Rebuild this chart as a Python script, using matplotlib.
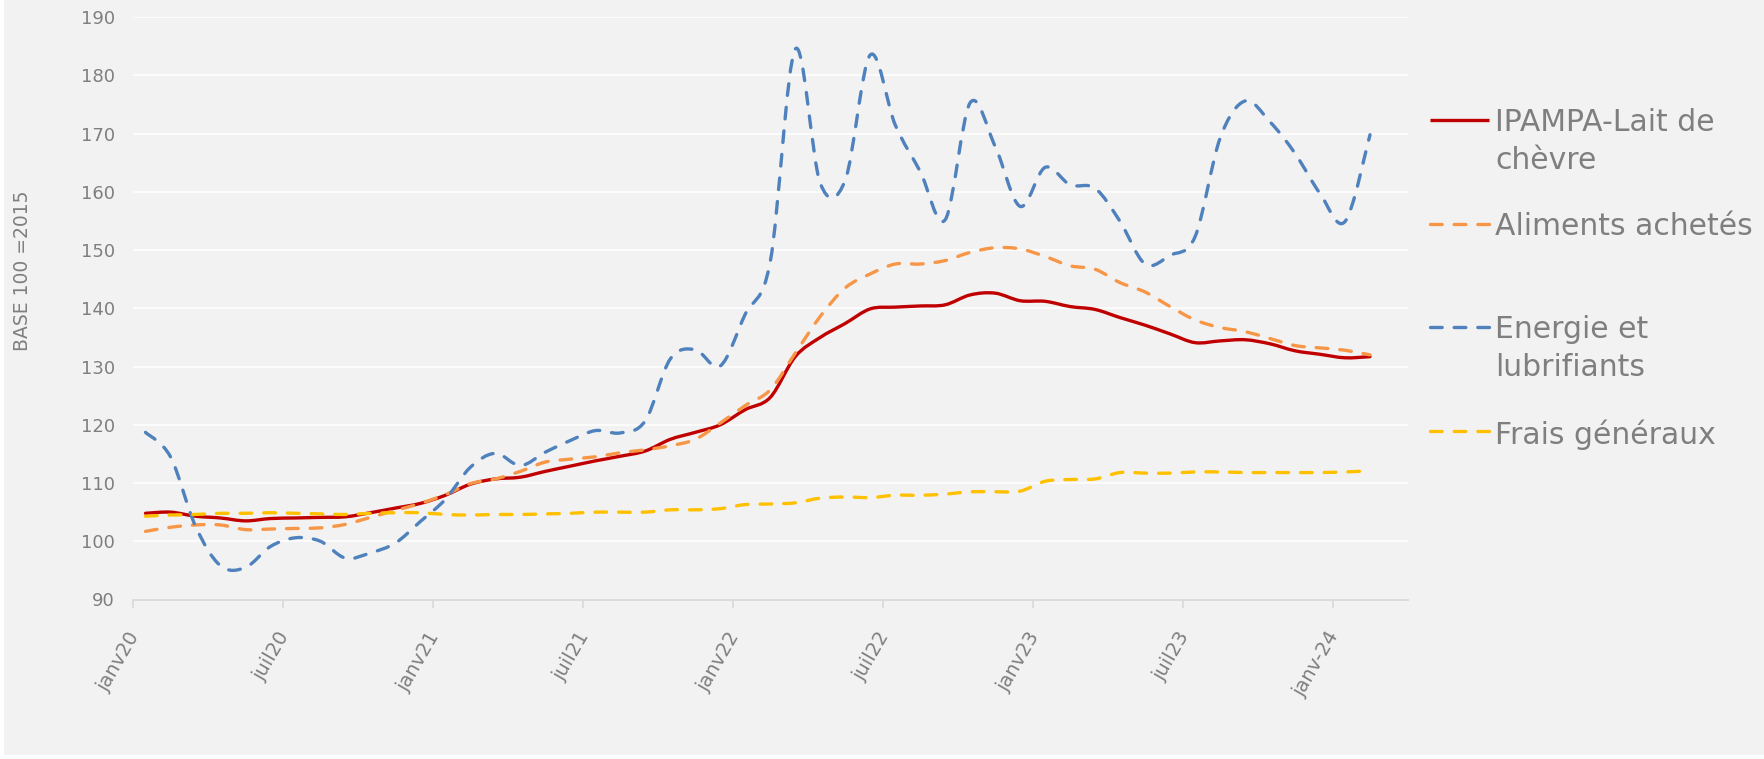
import matplotlib
matplotlib.use("Agg")
import matplotlib.pyplot as plt
from matplotlib.path import Path
from matplotlib.patches import PathPatch, Rectangle
from matplotlib.lines import Line2D
import matplotlib.transforms as mtransforms

# ---------------- data (monthly, janv20 .. févr24) ----------------
n_categories = 51  # janv20 .. mars24 on the axis
tick_idx = [0, 6, 12, 18, 24, 30, 36, 42, 48]
tick_labels = ["janv20", "juil20", "janv21", "juil21", "janv22", "juil22",
               "janv23", "juil23", "janv-24"]

ipampa = [104.8, 105.0, 104.3, 104.0, 103.5, 103.9, 104.0, 104.1, 104.2, 104.9,
          105.7, 106.5, 107.9, 109.8, 110.7, 111.0, 112.0, 112.9, 113.8, 114.6,
          115.5, 117.5, 118.7, 120.0, 122.6, 124.7, 131.7, 135.0, 137.4, 139.9,
          140.2, 140.4, 140.6, 142.3, 142.6, 141.3, 141.2, 140.3, 139.8, 138.4,
          137.1, 135.6, 134.1, 134.4, 134.6, 133.9, 132.7, 132.1, 131.5, 131.7]

aliments = [101.7, 102.4, 102.8, 102.8, 102.0, 102.1, 102.2, 102.3, 102.9, 104.1,
            105.3, 106.5, 108.0, 109.9, 110.7, 112.0, 113.6, 114.1, 114.5, 115.2,
            115.7, 116.4, 117.5, 120.3, 123.3, 126.0, 132.3, 138.6, 143.5, 145.9,
            147.6, 147.6, 148.2, 149.6, 150.4, 150.2, 148.9, 147.3, 146.7, 144.4,
            142.8, 140.3, 138.0, 136.7, 136.0, 134.8, 133.6, 133.2, 132.8, 132.0]

energie = [118.7, 114.5, 102.6, 95.8, 95.5, 99.1, 100.6, 100.0, 97.1, 98.0,
           99.7, 103.4, 107.2, 112.7, 115.1, 113.0, 115.3, 117.3, 119.0, 118.6,
           120.7, 131.3, 132.9, 130.1, 139.0, 148.0, 184.5, 161.5, 162.0, 183.5,
           171.5, 163.5, 155.2, 175.3, 167.8, 157.5, 164.2, 161.2, 160.6, 154.9,
           147.6, 149.1, 152.3, 169.2, 175.6, 172.0, 166.6, 159.7, 154.9, 169.8]

frais = [104.3, 104.5, 104.6, 104.8, 104.8, 104.9, 104.8, 104.7, 104.6, 104.8,
         104.9, 104.9, 104.6, 104.5, 104.6, 104.6, 104.7, 104.8, 105.0, 105.0,
         105.0, 105.4, 105.4, 105.6, 106.3, 106.4, 106.6, 107.4, 107.6, 107.5,
         107.9, 107.9, 108.1, 108.5, 108.5, 108.6, 110.3, 110.6, 110.7, 111.8,
         111.7, 111.7, 111.9, 111.9, 111.8, 111.8, 111.8, 111.8, 111.9, 112.1]

series_names = ["IPAMPA-Lait de\nchèvre", "Aliments achetés",
                "Energie et\nlubrifiants", "Frais généraux"]
series_values = [ipampa, aliments, energie, frais]

# ---------------- styling ----------------
W, H = 1764, 759
BG = "#F2F2F2"
GRAY = "#7F7F7F"
colors = ["#C00000", "#F79646", "#4F81BD", "#FFC000"]
styles = ["-", (0, (3.5, 3.6)), (0, (3.5, 3.6)), (0, (3.5, 3.6))]
widths = [2.4, 2.4, 2.4, 2.4]


def smooth_path(ys):
    """Excel-like smoothed line: cubic Bezier segments through the points."""
    xs = list(range(len(ys)))
    n = len(xs)
    verts = [(xs[0], ys[0])]
    codes = [Path.MOVETO]
    for i in range(n - 1):
        a = max(i - 1, 0)
        b = min(i + 2, n - 1)
        c1 = (xs[i] + (xs[i + 1] - xs[a]) / 6.0, ys[i] + (ys[i + 1] - ys[a]) / 6.0)
        c2 = (xs[i + 1] - (xs[b] - xs[i]) / 6.0, ys[i + 1] - (ys[b] - ys[i]) / 6.0)
        verts += [c1, c2, (xs[i + 1], ys[i + 1])]
        codes += [Path.CURVE4] * 3
    return Path(verts, codes)


fig = plt.figure(figsize=(W / 100, H / 100), dpi=100)
fig.patch.set_facecolor("white")
fig.add_artist(Rectangle((4 / W, 4 / H), 1 - 4 / W, 1 - 4 / H,
                         transform=fig.transFigure, facecolor=BG,
                         edgecolor="none", zorder=-10))

left, right = 133 / W, 1407.5 / W
bottom, top = (H - 599.5) / H, (H - 17.1) / H
ax = fig.add_axes([left, bottom, right - left, top - bottom])
ax.set_facecolor(BG)

ax.set_xlim(-0.5, n_categories - 0.5)
ax.set_ylim(90, 190)
ax.set_yticks(range(90, 191, 10))
ax.grid(axis="y", color="white", linewidth=1.2)
ax.set_axisbelow(True)

for s in ["top", "right", "left"]:
    ax.spines[s].set_visible(False)
ax.spines["bottom"].set_color("#D9D9D9")
ax.spines["bottom"].set_linewidth(1.3)

# tick marks (and labels) at the start of every 6th month
ax.set_xticks([i - 0.5 for i in tick_idx])
ax.set_xticklabels(tick_labels, rotation=60, ha="right", va="center",
                   rotation_mode="anchor", color=GRAY, fontsize=14)
ax.tick_params(axis="x", which="major", length=6, width=1.2, color="#D9D9D9", pad=18)
offset = mtransforms.ScaledTranslation(2 / 100, 0, fig.dpi_scale_trans)
for lab in ax.get_xticklabels():
    lab.set_transform(lab.get_transform() + offset)
ax.tick_params(axis="y", length=0, pad=13, labelsize=13, labelcolor=GRAY)

for vals, c, ls, lw in zip(series_values, colors, styles, widths):
    patch = PathPatch(smooth_path(vals), fill=False, edgecolor=c, linewidth=lw,
                      linestyle=ls, capstyle="round", joinstyle="round", zorder=3)
    ax.add_patch(patch)

ax.set_ylabel("BASE 100 =2015", fontsize=13.5, color=GRAY)
ax.yaxis.set_label_coords((32 - 133) / (1407.5 - 133), (599.5 - 271) / (599.5 - 17.1))

# ---------------- legend (drawn like the Excel legend) ----------------
legend_y = [120, 224, 327, 431]
for name, c, ls, lw, yy in zip(series_names, colors, styles, widths, legend_y):
    yf = (H - yy) / H
    fig.add_artist(Line2D([1430 / W, 1489 / W], [yf, yf], transform=fig.transFigure,
                          color=c, linestyle=ls, linewidth=lw,
                          dash_capstyle="round", solid_capstyle="butt"))
    fig.text(1495 / W, (H - (yy - 12)) / H, name, ha="left", va="top",
             fontsize=21.5, color=GRAY, linespacing=1.38)

fig.savefig("out.png", dpi=100, facecolor=fig.get_facecolor())
